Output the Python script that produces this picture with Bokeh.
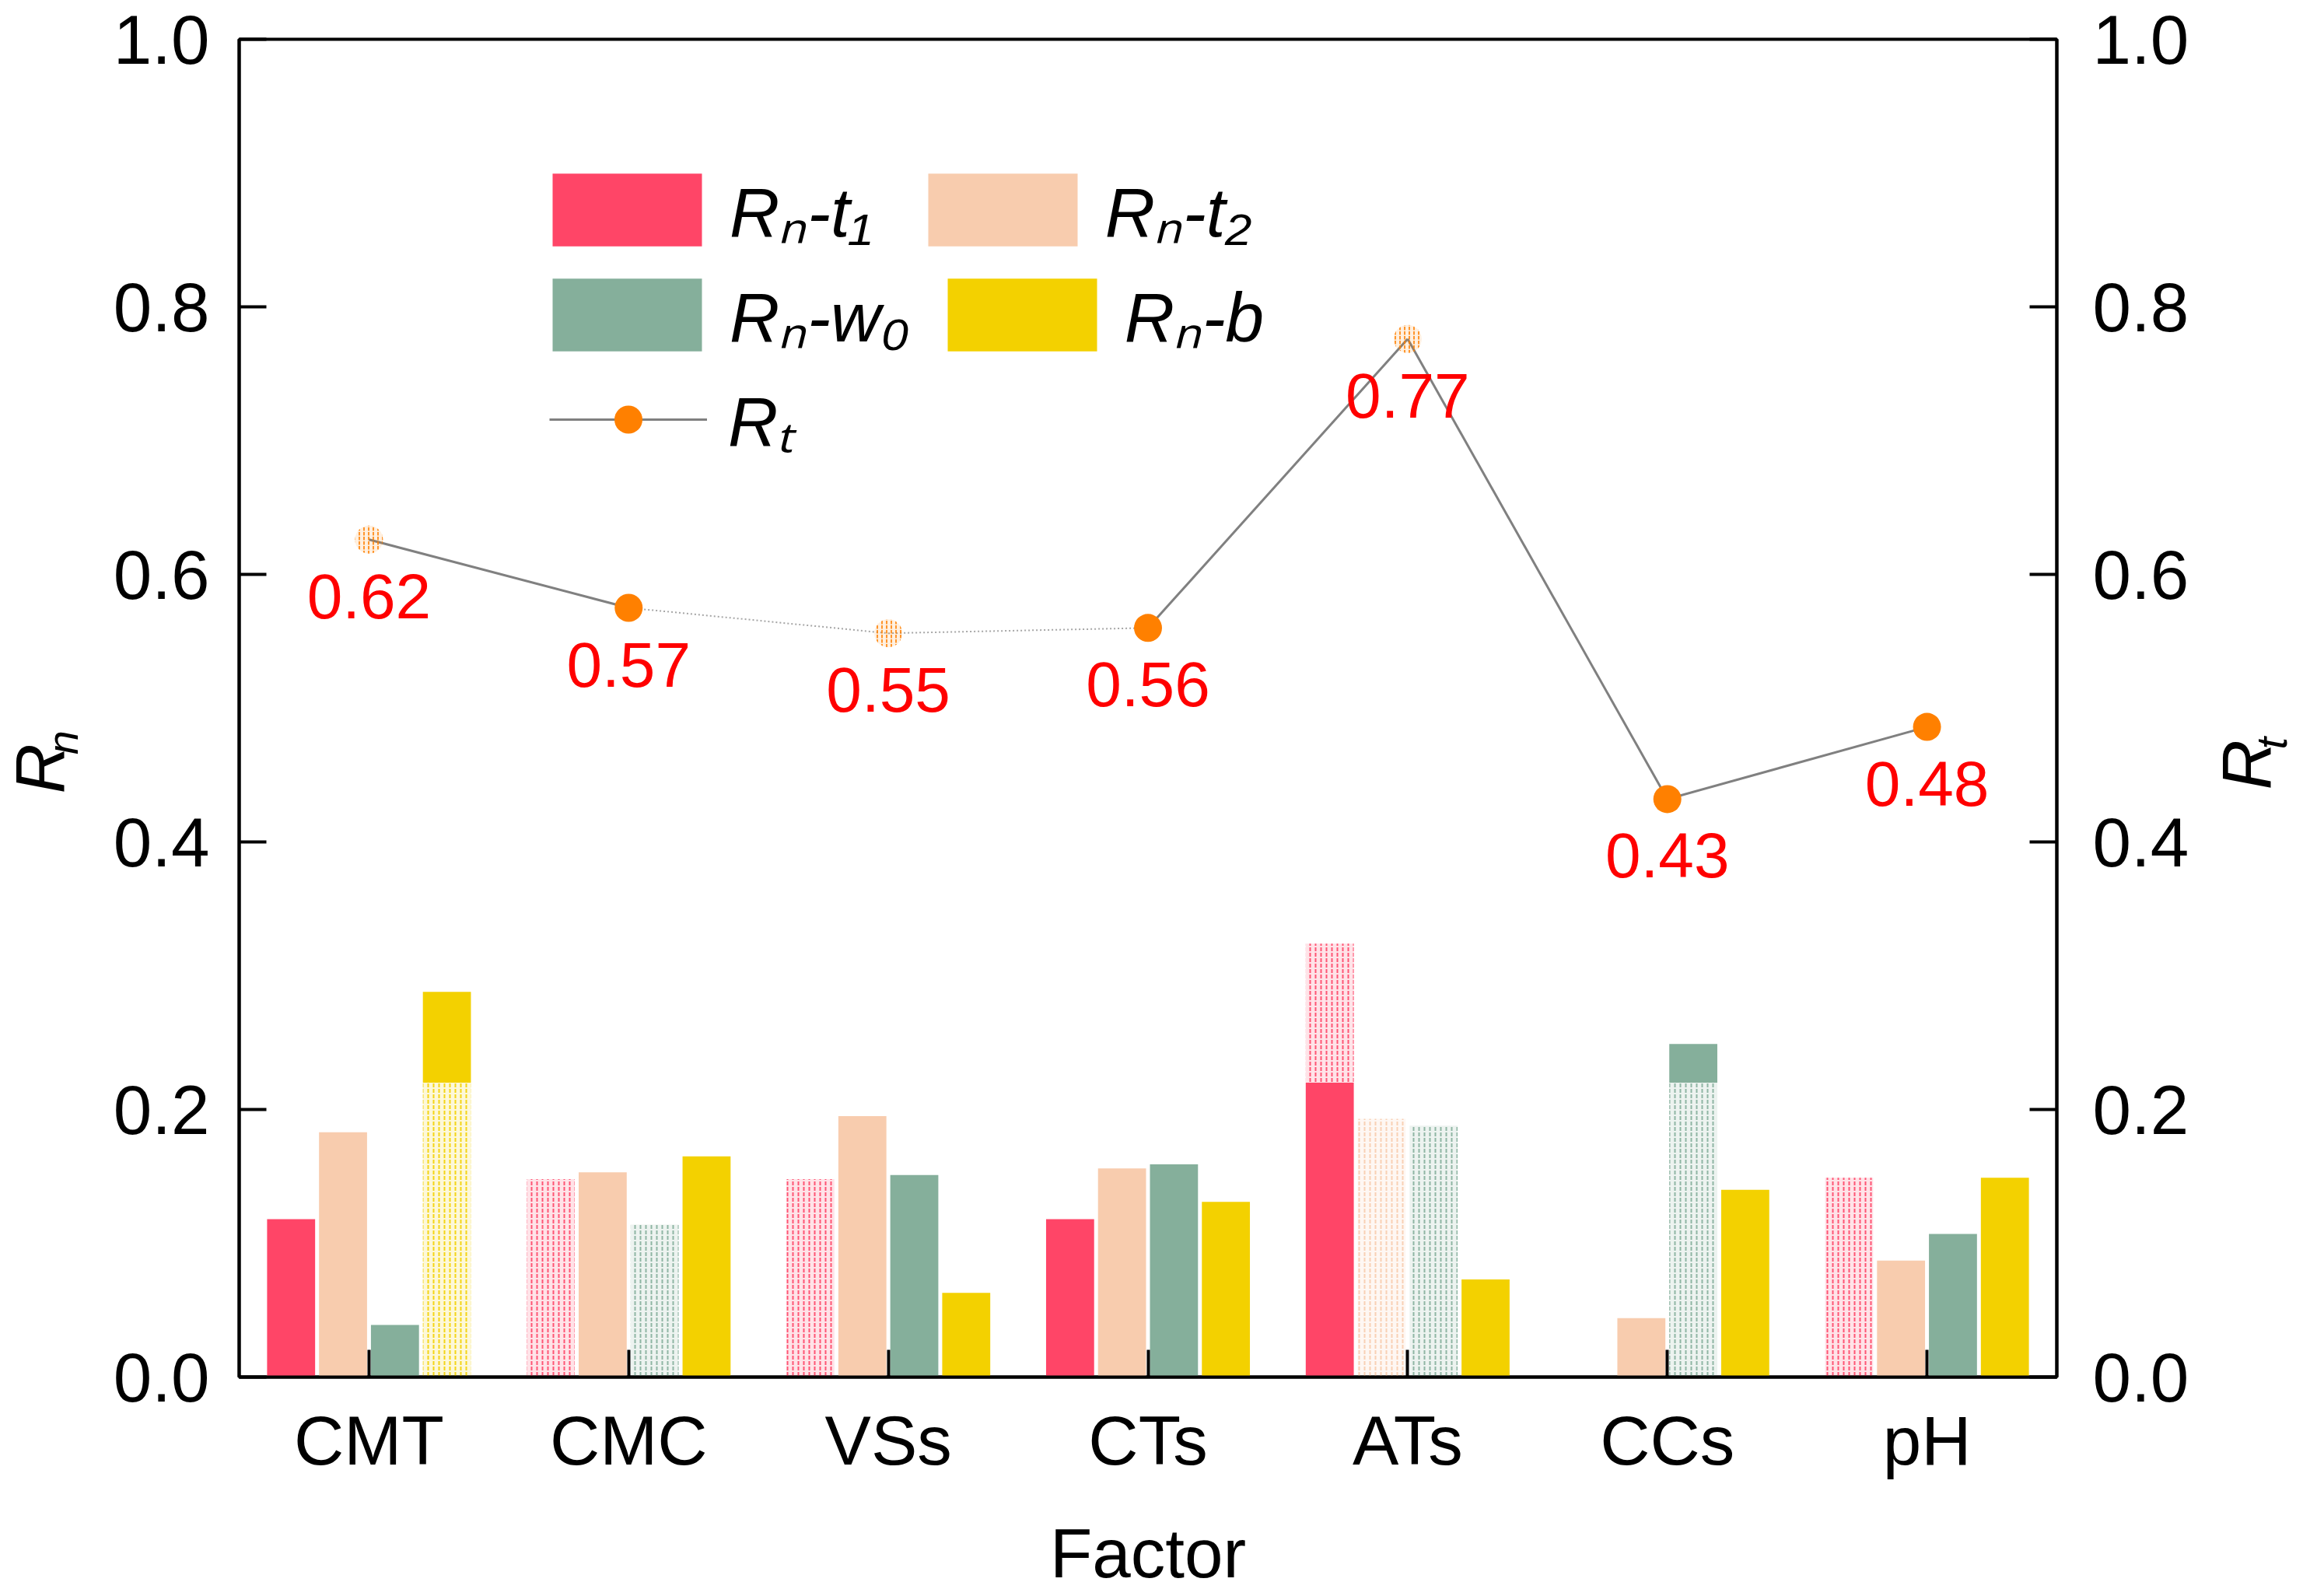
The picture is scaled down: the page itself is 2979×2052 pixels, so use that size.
import math
from bokeh.plotting import figure
from bokeh.layouts import row
from bokeh.models import (ColumnDataSource, FactorRange, Range1d, LinearAxis, FixedTicker,
                          PrintfTickFormatter, Legend, LegendItem)
from bokeh.transform import dodge
from bokeh.core.properties import value
from bokeh.embed import file_html
from bokeh.resources import INLINE

# categories and values
factors = ["CMT", "CMC", "VSs", "CTs", "ATs", "CCs", "pH"]

rn_t1 = [0.118, 0.148, 0.148, 0.118, 0.324, 0.0, 0.149]
rn_t2 = [0.183, 0.153, 0.195, 0.156, 0.193, 0.044, 0.087]
rn_w0 = [0.039, 0.114, 0.151, 0.159, 0.188, 0.249, 0.107]
rn_b = [0.288, 0.165, 0.063, 0.131, 0.073, 0.140, 0.149]

rt = [0.626, 0.575, 0.556, 0.560, 0.776, 0.432, 0.486]
rt_labels = ["0.62", "0.57", "0.55", "0.56", "0.77", "0.43", "0.48"]

y_ticks = [0.0, 0.2, 0.4, 0.6, 0.8, 1.0]

# parts that came out pale / dotted in the source picture
split = 0.22
pale_t1 = ["", "all", "all", "", "above", "", "all"]
pale_t2 = ["", "", "", "", "all", "", ""]
pale_w0 = ["", "all", "", "", "all", "below", ""]
pale_b = ["below", "", "", "", "", "", ""]
pale_rt = [True, False, True, False, True, False, False]
pale_rt_line = [False, True, True, False, False, False]

FONT = "Liberation Sans"
C_T1 = "#FF4567"
C_T2 = "#F8CCAE"
C_W0 = "#85AF9B"
C_B = "#F3D100"
C_PT = "#FF8000"
C_LINE = "#808080"

H = 2036
SIDE_W = 140


def split_bars(vals, pale):
    solid = dict(x=[], bottom=[], top=[])
    faded = dict(x=[], bottom=[], top=[])
    for f, v, kind in zip(factors, vals, pale):
        if v <= 0:
            continue
        if kind == "all":
            parts = [(faded, 0, v)]
        elif kind == "below":
            parts = [(faded, 0, split), (solid, split, v)]
        elif kind == "above":
            parts = [(solid, 0, split), (faded, split, v)]
        else:
            parts = [(solid, 0, v)]
        for d, b, t in parts:
            d["x"].append(f)
            d["bottom"].append(b)
            d["top"].append(t)
    return ColumnDataSource(solid), ColumnDataSource(faded)


p = figure(x_range=FactorRange(*factors), y_range=Range1d(0, 1),
           frame_width=2337, frame_height=1720,
           min_border_left=307 - SIDE_W, min_border_right=319 - SIDE_W,
           min_border_top=50, min_border_bottom=266,
           output_backend="svg", toolbar_location=None)
p.extra_y_ranges = {"rt": Range1d(0, 1)}
p.add_layout(LinearAxis(y_range_name="rt"), "right")

p.xgrid.visible = False
p.ygrid.visible = False
p.outline_line_color = "black"
p.outline_line_width = 4
p.outline_line_alpha = 1.0

for ax in p.yaxis:
    ax.ticker = FixedTicker(ticks=y_ticks)
    ax.formatter = PrintfTickFormatter(format="%.1f")
p.yaxis[0].major_label_standoff = 38
p.yaxis[1].major_label_standoff = 46
for ax in p.xaxis + p.yaxis:
    ax.axis_line_width = 4
    ax.axis_line_color = "black"
    ax.major_tick_line_width = 4
    ax.major_tick_in = 35
    ax.major_tick_out = 0
    ax.minor_tick_line_color = None
    ax.major_label_text_font = FONT
    ax.major_label_text_font_size = "89px"
    ax.major_label_text_color = "black"
    ax.axis_label_text_font = FONT
    ax.axis_label_text_font_size = "89px"
    ax.axis_label_text_color = "black"

p.xaxis.major_label_standoff = 31
p.xaxis.axis_label = "Factor"
p.xaxis.axis_label_text_font_style = "normal"
p.xaxis.axis_label_standoff = 42

# bars
bar_w = 0.185
series = [(rn_t1, pale_t1, C_T1, -0.3), (rn_t2, pale_t2, C_T2, -0.1),
          (rn_w0, pale_w0, C_W0, 0.1), (rn_b, pale_b, C_B, 0.3)]
bar_renderers = []
for vals, pale, color, off in series:
    src_solid, src_faded = split_bars(vals, pale)
    r = p.vbar(x=dodge("x", off, range=p.x_range), width=bar_w, bottom="bottom", top="top",
               source=src_solid, fill_color=color, line_color=None)
    p.vbar(x=dodge("x", off, range=p.x_range), width=bar_w, bottom="bottom", top="top",
           source=src_faded, fill_color=color, fill_alpha=0.15, line_color=None,
           hatch_pattern=":", hatch_color=color, hatch_scale=7, hatch_weight=2, hatch_alpha=0.9)
    bar_renderers.append(r)

# Rt line, split into solid and pale pieces
seg_solid = dict(x0=[], x1=[], y0=[], y1=[])
seg_faded = dict(x0=[], x1=[], y0=[], y1=[])
for i, pale in enumerate(pale_rt_line):
    d = seg_faded if pale else seg_solid
    d["x0"].append(factors[i])
    d["x1"].append(factors[i + 1])
    d["y0"].append(rt[i])
    d["y1"].append(rt[i + 1])
r_line = p.segment(x0="x0", y0="y0", x1="x1", y1="y1", source=ColumnDataSource(seg_solid),
                   y_range_name="rt", line_color=C_LINE, line_width=3)
p.segment(x0="x0", y0="y0", x1="x1", y1="y1", source=ColumnDataSource(seg_faded),
          y_range_name="rt", line_color=C_LINE, line_width=2, line_dash="2 3", line_alpha=0.7)

pts_solid = dict(x=[f for f, q in zip(factors, pale_rt) if not q],
                 y=[v for v, q in zip(rt, pale_rt) if not q])
pts_faded = dict(x=[f for f, q in zip(factors, pale_rt) if q],
                 y=[v for v, q in zip(rt, pale_rt) if q])
r_pts = p.scatter(x="x", y="y", source=ColumnDataSource(pts_solid), y_range_name="rt",
                  size=36, fill_color=C_PT, line_color=None)
p.scatter(x="x", y="y", source=ColumnDataSource(pts_faded), y_range_name="rt",
          size=36, fill_color=C_PT, fill_alpha=0.12, line_color=None,
          hatch_pattern=":", hatch_color=C_PT, hatch_scale=6, hatch_weight=2, hatch_alpha=0.8)

p.text(x="x", y="y", text="t", source=ColumnDataSource(dict(x=factors, y=rt, t=rt_labels)),
       y_range_name="rt", text_align="center", text_baseline="top", y_offset=44,
       text_color="#FF0000", text_font=value(FONT), text_font_size="82px")

# legend in three rows
def make_legend(items, loc, glyph_w, glyph_h, standoff, spacing):
    leg = Legend(items=items, location=loc, orientation="horizontal",
                 glyph_width=glyph_w, glyph_height=glyph_h, label_standoff=standoff,
                 spacing=spacing, padding=0, margin=0, border_line_color=None,
                 background_fill_alpha=0, label_text_font=FONT, label_text_font_size="89px",
                 label_text_font_style="italic", label_text_color="black", label_height=94)
    p.add_layout(leg)

make_legend([LegendItem(label="Rₙ-t₁", renderers=[bar_renderers[0]]),
             LegendItem(label="Rₙ-t₂", renderers=[bar_renderers[1]])],
            (379, 1440), 240, 117, 12, 48)
make_legend([LegendItem(label="Rₙ-w₀", renderers=[bar_renderers[2]]),
             LegendItem(label="Rₙ-b", renderers=[bar_renderers[3]])],
            (379, 1305), 240, 117, 12, 24)
make_legend([LegendItem(label="Rₜ", renderers=[r_line, r_pts])],
            (399, 1171), 203, 90, 27, 0)


# narrow side panels carrying the rotated y titles with a real subscript
def side_title(main_x, main_y, sub_x, sub_y, main, sub):
    s = figure(width=SIDE_W, height=H, x_range=Range1d(0, SIDE_W), y_range=Range1d(0, H),
               x_axis_location=None, y_axis_location=None, min_border=0,
               output_backend="svg", toolbar_location=None)
    s.xgrid.visible = False
    s.ygrid.visible = False
    s.outline_line_color = None
    s.text(x=[main_x], y=[main_y], text=[main], angle=math.pi / 2, text_align="left",
           text_baseline="alphabetic", text_font=value(FONT), text_font_style="italic",
           text_font_size="89px", text_color="black")
    s.text(x=[sub_x], y=[sub_y], text=[sub], angle=math.pi / 2, text_align="left",
           text_baseline="alphabetic", text_font=value(FONT), text_font_style="italic",
           text_font_size="56px", text_color="black")
    return s


left = side_title(50, 879, 80, 939, "R", "n")
right = side_title(64, 885, 97, 947, "R", "t")

layout = row(left, p, right, spacing=0)
open("out.html", "w").write(file_html(layout, INLINE))
